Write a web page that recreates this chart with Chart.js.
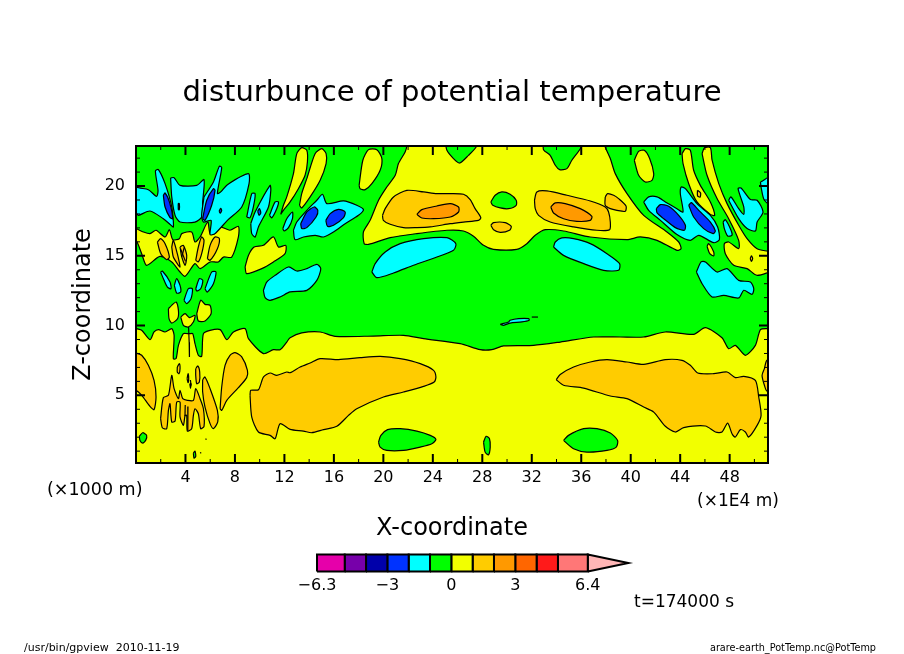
<!DOCTYPE html>
<html>
<head>
<meta charset="utf-8">
<title>disturbunce of potential temperature</title>
<script src="https://cdn.jsdelivr.net/npm/chart.js@4/dist/chart.umd.js"></script>
<style>
  html, body { margin: 0; padding: 0; background: #fff; }
  #wrap { position: relative; width: 904px; height: 654px; overflow: hidden; }
  canvas { position: absolute; left: 0; top: 0; }
</style>
</head>
<body>
<div id="wrap">
  <canvas id="contourChart" width="904" height="654"></canvas>
  <canvas id="colorbarChart" width="904" height="654"></canvas>
</div>
<script>
// contour lines, [x (1E4 m), z (1000 m)]
const yellowUpperCentre = [[21.9,23.2],[21.9,22.87],[21.76,22.44],[21.22,21.61],[20.96,20.77],[20.28,19.93],[19.61,18.98],[18.93,17.54],[18.39,16.71],[18.45,15.87],[18.8,15.82],[20.55,16.3],[22.71,16.59],[25.14,16.83],[26.48,16.78],[27.29,16.4],[28.1,15.75],[28.9,15.46],[30.79,15.46],[31.6,15.87],[32.28,16.47],[33.09,16.87],[34.57,16.78],[36.73,16.35],[39.7,16.16],[40.78,16.35],[42.13,16.11],[43.74,15.39],[44.07,15.51],[43.88,15.99],[42.93,16.71],[41.05,17.9],[39.7,19.46],[38.75,20.89],[38.35,21.97],[37.94,22.8],[37.9,23.2]];
const yellowLower = [[-0.5,10],[0.05,9.78],[0.46,9.66],[1.13,8.99],[1.46,9.54],[1.81,9.71],[2.35,9.54],[2.89,9.78],[3.08,9.3],[3.02,7.63],[3.24,7.63],[3.43,8.58],[3.83,9.42],[4.15,9.42],[4.37,9.42],[4.59,9.42],[4.77,8.7],[5.04,7.87],[5.31,7.79],[5.45,9.42],[5.99,9.66],[6.8,9.71],[7.34,8.99],[7.88,9.54],[8.82,9.78],[9.09,9.06],[10.3,7.99],[11.11,8.27],[11.65,8.27],[12.19,8.82],[12.46,9.13],[13.4,9.47],[14.89,9.54],[16.1,9.23],[19.2,9.25],[21.63,9.3],[23.25,9.06],[26.21,8.7],[27.83,8.27],[28.77,8.27],[29.72,8.54],[32.14,8.58],[34.3,8.82],[37,9.18],[39.15,9.18],[41.05,9.18],[42.8,9.54],[45.09,9.37],[46.04,9.85],[47.38,9.13],[47.92,8.34],[48.46,8.58],[49.27,7.87],[50.08,8.58],[50.49,9.71],[51.08,9.78],[51.6,9.78],[51.6,-1],[-0.5,-1]];
const yellowUpperLeft = [[-0.5,17],[0,16.95],[0.59,16.71],[1.13,16.59],[1.62,16.83],[2.35,16.35],[2.7,16.87],[2.97,16.16],[3.51,16.23],[3.7,16.59],[4.5,16.71],[4.77,15.99],[5.18,16.35],[5.8,17.42],[5.99,16.59],[6.39,16.59],[6.8,17.07],[7.6,16.83],[8.28,17.11],[8.28,16.35],[7.74,14.91],[7.07,14.91],[6.66,14.56],[5.99,14.56],[5.18,14.08],[4.77,14.44],[3.97,13.53],[3.56,13.84],[2.89,14.56],[1.94,14.96],[0.86,14.32],[0.46,15.15],[0,16.11],[-0.5,16.11]];
const yellowStripA = [[11.7,17.97],[11.92,18.62],[12.19,19.22],[12.73,20.89],[13,22.32],[13.4,22.75],[13.81,22.56],[13.86,21.73],[13.67,20.77],[13.13,19.81],[12.46,18.86],[11.92,18.26]];
const yellowStripB = [[13.22,18.62],[13.4,19.46],[13.81,20.53],[14.48,22.32],[15.02,22.68],[15.37,22.32],[15.37,21.61],[14.89,20.41],[14.08,19.22],[13.4,18.43]];
const yellowStripC = [[18.04,20.05],[18.34,21.85],[18.8,22.61],[19.47,22.61],[19.88,21.97],[19.74,21.13],[19.07,20.17],[18.53,19.74],[18.12,19.81]];
const yellowOvalRight = [[40.29,21.85],[40.64,22.49],[41.1,22.56],[41.53,21.97],[41.86,20.89],[41.72,20.41],[41.18,20.29],[40.64,20.77]];
const yellowStripD = [[44.15,22.32],[44.42,22.68],[44.82,22.56],[45.09,21.13],[45.63,20.05],[46.44,18.86],[46.79,17.9],[46.44,17.97],[45.36,18.86],[44.69,20.17],[44.23,21.61]];
const yellowStripE = [[45.77,22.32],[45.96,22.75],[46.44,22.75],[46.58,21.85],[47.12,20.17],[47.79,18.74],[48.73,17.19],[49.41,16.23],[50.22,15.51],[51.6,15.15],[51.6,14.08],[50.22,13.6],[49.41,14.08],[48.33,14.32],[47.65,15.15],[47.57,15.87],[47.92,15.99],[48.73,15.51],[48.73,16.11],[47.92,17.66],[46.98,19.1],[46.17,20.77]];
const yellowSmallRight = [[46.17,15.68],[46.3,15.87],[46.71,15.27],[46.71,14.99],[46.39,15.15]];
const yellowPatchMid = [[8.82,14.2],[9.09,15.03],[9.55,15.63],[10.3,15.75],[11.11,16.35],[11.52,15.63],[12.11,15.75],[12.05,15.15],[11.11,14.56],[10.17,14.08],[8.95,13.72]];
const yellowBlobA = [[2.62,11.21],[2.89,11.45],[3.24,11.69],[3.43,11.09],[3.37,10.5],[2.89,10.18],[2.67,10.5]];
const yellowBlobB = [[3.62,10.61],[3.97,10.85],[4.32,10.57],[4.77,10.73],[4.64,10.26],[4.23,9.9],[3.83,10.02]];
const yellowBlobC = [[4.91,10.85],[5.23,11.81],[5.58,11.52],[5.99,11.45],[6.07,10.85],[5.58,10.33],[5.04,10.33]];

const greenTopLeft = [[25,23.2],[25.14,22.56],[25.67,21.97],[26.16,21.65],[26.88,22.2],[27.5,22.8],[27.5,23.2]];
const greenTopRight = [[32.95,23.2],[32.95,22.6],[33.49,22.2],[33.9,21.49],[34.25,21.18],[34.84,21.25],[35.24,21.85],[35.97,22.75],[36,23.2]];
const greenMidUpper = [[28.69,18.86],[29.04,19.34],[29.58,19.58],[30.25,19.41],[30.74,18.98],[30.74,18.62],[30.12,18.38],[29.45,18.43],[28.85,18.62]];
const greenLowLeft = [[19.61,1.65],[19.8,2.13],[20.34,2.54],[21.36,2.61],[22.71,2.44],[23.79,2.13],[24.25,1.84],[23.92,1.53],[22.98,1.29],[21.63,1.05],[20.28,1.05],[19.74,1.29]];
const greenLowRight = [[34.57,1.77],[34.97,2.13],[36.19,2.61],[37.27,2.61],[38.35,2.3],[38.94,1.77],[38.83,1.29],[38.08,1.05],[36.46,0.93],[35.38,1.17]];
const greenLowCentre = [[28.1,1.65],[28.31,2.06],[28.58,1.89],[28.64,1.29],[28.5,0.74],[28.23,0.93]];
const greenEdgeDot = [[0.27,2.06],[0.54,2.32],[0.86,2.13],[0.78,1.77],[0.54,1.58],[0.32,1.77]];
const greenDotLow = [[4.64,0.86],[4.77,1],[4.83,0.62],[4.69,0.5]];

const cyanCentreLeft = [[19.07,13.84],[19.34,14.44],[20.15,15.27],[21.36,15.87],[23.25,16.23],[25.14,16.3],[25.86,15.87],[25.67,15.39],[24.33,14.91],[22.44,14.32],[20.82,13.77],[19.47,13.43]];
const cyanCentreRight = [[33.76,15.63],[33.9,15.99],[34.43,16.28],[35.38,16.23],[36.73,15.87],[38.08,15.15],[39.1,14.44],[39.02,13.96],[37.81,13.96],[36.19,14.44],[34.57,15.03]];
const cyanUpperLobe = [[12.73,16.83],[13,17.42],[13.81,18.26],[14.62,18.98],[15.08,19.41],[15.43,18.74],[16.78,18.93],[17.85,18.62],[18.39,18.31],[17.99,17.9],[16.91,17.3],[15.97,16.71],[15.16,16.35],[14.48,16.47],[13.54,16.35],[12.86,16.16]];
const cyanLeftLobe = [[-0.5,20.36],[0,20.36],[0.05,19.93],[1,19.74],[1.67,19.26],[1.78,19.69],[1.57,21.08],[1.81,21.18],[2.35,20.17],[2.89,18.5],[3.02,17.07],[2.7,17.3],[2.21,17.66],[1.13,18.21],[0.19,17.9],[0,18.07],[-0.5,18.07]];
const cyanLeftCentre = [[2.8,20.58],[3.08,20.6],[3.56,20.05],[4.91,20.05],[5.5,20.46],[5.39,18.86],[5.31,17.78],[4.77,17.42],[3.56,17.42],[3.16,17.9],[2.89,19.22]];
const cyanRightLobe = [[5.5,19.22],[6.26,20.29],[6.74,21.42],[6.93,21.32],[6.58,19.46],[6.85,19.58],[7.39,20.1],[9.09,20.89],[9.14,20.17],[8.55,18.5],[7.39,17.54],[6.39,16.59],[5.99,16.52],[6.07,17.54],[5.45,17.42],[5.31,17.9]];
const cyanFinA = [[8.95,17.78],[9.36,19.46],[9.63,19.46],[9.49,18.5],[9.22,17.73]];
const cyanFinB = [[9.28,17.31],[9.63,18.14],[10.84,20.05],[10.9,19.69],[10.71,18.5],[9.9,17.07],[9.63,16.35],[9.36,16.59]];
const cyanFinC = [[10.79,17.9],[11.25,18.86],[11.52,18.86],[11.38,18.38],[10.98,17.73]];
const cyanFinD = [[11.87,16.95],[12.19,17.66],[12.65,18.14],[12.65,17.66],[12.33,17.02],[11.97,16.78]];
const cyanPatchLeft = [[10.3,12.52],[10.57,13.12],[11.25,13.6],[12.33,14.2],[13,13.91],[13.81,14.08],[14.62,14.39],[14.94,14.08],[14.62,13.24],[13.81,12.52],[12.46,12.41],[11.65,12.05],[10.84,11.81],[10.44,12]];
const cyanColumnA = [[1.99,13.84],[2.13,13.91],[2.75,13.12],[2.83,12.64],[2.54,12.76],[2.27,13.24]];
const cyanColumnB = [[3.1,12.88],[3.29,13.36],[3.56,12.88],[3.61,12.4],[3.29,12.33]];
const cyanColumnC = [[3.88,11.81],[4.23,12.64],[4.56,12.64],[4.45,11.93],[4.1,11.57]];
const cyanColumnD = [[4.83,12.64],[5.12,13.36],[5.4,13.24],[5.23,12.64],[4.91,12.48]];
const cyanColumnE = [[5.58,12.64],[6.12,13.84],[6.47,13.84],[6.26,13],[5.77,12.4]];
const cyanRightBig = [[41.05,18.86],[41.45,19.22],[42.13,19.22],[42.8,18.86],[43.74,18.38],[44.23,18.14],[44.01,19.46],[44.09,19.93],[44.42,19.81],[45.36,18.74],[46.44,17.9],[47.03,17.07],[47.17,16.16],[46.71,15.94],[45.5,16.47],[44.82,16.11],[43.74,16.52],[42.4,17.54],[41.45,18.26]];
const cyanRightC = [[47.92,18.98],[48.11,19.22],[48.73,18.38],[49.14,17.97],[49.14,18.5],[48.68,19.81],[48.92,19.86],[49.68,19.03],[50.22,18.98],[50.7,18.14],[50.22,17.42],[50.08,16.78],[49.41,16.95],[48.73,17.66]];
const cyanRightD = [[47.47,17.42],[47.65,17.59],[48.11,16.83],[48.19,16.47],[47.84,16.42],[47.57,16.95]];
const cyanRightEdge = [[50.49,20.29],[51.6,20.77],[51.6,18.5],[50.81,18.98],[50.54,19.93]];
const cyanRightLow = [[45.31,13.84],[45.69,14.56],[46.04,14.56],[46.98,13.84],[47.79,14.08],[48.73,13.24],[49.68,13.12],[49.95,12.64],[49.81,12.24],[49.14,12.53],[48.73,11.98],[47.52,12.17],[46.58,12.05],[45.77,13]];
const cyanSliver = [[29.45,10.09],[30.12,10.26],[30.25,10.38],[30.93,10.5],[31.74,10.5],[31.79,10.38],[31.2,10.26],[30.25,10.18],[29.72,10.02]];

const orangeUpperLeft = [[19.93,17.9],[20.15,18.38],[20.82,19.22],[21.9,19.69],[23.25,19.58],[24.33,19.46],[25.4,19.46],[26.48,19.41],[27.02,19.03],[27.42,18.38],[27.88,17.73],[27.69,17.54],[26.48,17.42],[25.4,17.3],[23.79,17.07],[22.71,17.02],[21.63,17.02],[20.55,17.26],[20,17.54]];
const orangeUpperRight = [[32.22,18.98],[32.41,19.58],[33.22,19.65],[34.84,19.34],[36.73,18.93],[37.94,18.5],[38.21,18.14],[38.35,17.42],[38.29,16.87],[37.27,16.83],[35.38,17.07],[33.49,17.42],[32.55,17.9],[32.28,18.38]];
const orangeMidSmall = [[28.69,17.19],[28.91,17.38],[29.85,17.38],[30.34,17.11],[30.2,16.83],[29.45,16.68],[28.91,16.87]];
const orangeUpperFar = [[37.94,19.22],[38.13,19.46],[38.62,19.34],[39.02,19.1],[39.62,18.57],[39.56,18.19],[38.89,18.26],[38.35,18.38],[37.94,18.62]];
const orangeOvalLeft = [[1.73,15.99],[2,16.23],[2.35,15.87],[2.7,14.91],[2.48,14.72],[2,15.15]];
const orangeOvalRight = [[5.77,14.8],[5.99,15.75],[6.39,16.35],[6.74,16.23],[6.58,15.51],[5.99,14.68]];
const orangeFingerA = [[2.89,15.63],[3.02,16.11],[3.34,15.15],[3.56,14.2],[3.43,14.32],[3.02,14.91]];
const orangeFingerB = [[4.83,14.68],[5.04,15.63],[5.31,16.35],[5.5,16.11],[5.31,15.15],[5.04,14.56]];
const orangeFingerC = [[3.56,15.63],[3.83,15.75],[4.1,15.03],[3.97,14.32],[3.7,14.92]];
const orangeEdgeLeft = [[-0.5,8.03],[0,8.03],[0.46,7.87],[1,7.15],[1.46,6.07],[1.62,4.88],[1.46,3.97],[1.13,4.21],[0.46,5],[0,5.36],[-0.5,5.36]];
const orangeComb = [[1.99,3.33],[2.21,4.83],[2.62,5],[2.89,6.43],[3.08,5.48],[3.43,4.76],[3.56,5.36],[3.78,4.76],[4.15,4.64],[4.64,4.64],[4.83,5.48],[5.18,4.76],[5.45,4.04],[5.5,2.78],[5.23,2.61],[5.04,3.68],[4.77,4.04],[4.64,3.56],[4.5,2.61],[4.15,2.44],[4.1,3.56],[3.97,3.56],[3.83,2.85],[3.56,3.45],[3.56,4.52],[3.29,4.52],[3.16,3.16],[2.89,3.09],[2.75,4.4],[2.62,3.92],[2.48,2.61],[2.13,2.68]];
const orangeSpikeA = [[5.39,6.12],[5.58,6.31],[5.99,5.48],[6.58,3.92],[6.61,3.09],[6.26,2.61],[5.99,2.97],[5.58,4.16],[5.39,5.24]];
const orangeSpikeB = [[6.8,4.04],[6.93,5.6],[7.2,7.15],[7.6,7.87],[8.01,8.06],[8.55,7.75],[9.01,6.79],[8.95,6.27],[8.28,5.55],[7.34,4.64],[6.93,3.92]];
const orangeTinyA = [[4.83,6.91],[5,7.1],[5.15,6.67],[5.12,5.95],[4.91,5.83],[4.83,6.43]];
const orangeTinyB = [[3.34,7.03],[3.51,7.27],[3.56,6.91],[3.48,6.55],[3.34,6.67]];
const orangeTinyC = [[4.13,6.19],[4.21,6.55],[4.26,6.19],[4.21,5.9]];
const orangeTinyD = [[4.35,5.83],[4.4,5.5],[4.45,5.83]];
const orangeLowLeft = [[9.22,5],[9.28,5.36],[9.9,5.4],[10.3,6.31],[10.84,6.6],[11.38,6.43],[12.19,6.67],[12.46,6.62],[13.27,7.03],[14.08,7.32],[14.89,7.63],[16.37,7.56],[18.12,7.7],[19.74,7.79],[21.36,7.63],[22.98,7.27],[24.06,6.79],[24.25,6.31],[24.11,5.95],[23.25,5.64],[21.63,5.24],[20.01,4.88],[17.85,4.04],[17.18,3.56],[16.24,2.78],[15.16,2.54],[14.21,2.32],[13.54,2.44],[12.46,2.56],[11.65,2.97],[11.25,1.89],[10.84,2.13],[9.9,2.37],[9.36,3.44]];
const orangeLowRight = [[33.98,6.12],[34.3,6.5],[35.38,7.03],[36.73,7.39],[38.08,7.56],[39.7,7.39],[41.05,7.22],[42.8,7.56],[44.15,7.51],[44.82,7.15],[45.42,6.6],[46.71,6.55],[47.79,6.67],[48.46,6.27],[49.14,6.36],[50.08,6.07],[50.35,4.88],[50.54,3.56],[50.22,2.85],[49.54,2.01],[49.27,2.37],[48.87,2.54],[48.46,2.01],[48.19,2.25],[47.84,3.01],[47.38,2.37],[46.85,2.37],[46.04,2.8],[44.28,2.68],[43.61,2.37],[42.8,2.78],[41.86,3.8],[41.05,4.16],[39.7,4.76],[38.35,4.95],[36.19,5.52],[34.57,5.72]];
const orangeEdgeRight = [[51.6,7.6],[51,7.5],[50.81,6.91],[50.62,6.43],[50.81,5.72],[51,5.31],[51.6,5.31]];
const orangeRingA = [[45.4,19.7],[45.65,19.5],[45.6,19.2],[45.4,19.3]];
const orangeRingB = [[49.66,14.8],[49.76,15],[49.86,14.8],[49.76,14.6]];

const blueUpperA = [[13.32,17.3],[13.81,18.14],[14.4,18.5],[14.7,18.26],[14.56,17.78],[13.81,17.02],[13.4,16.95]];
const blueUpperB = [[15.35,17.54],[15.7,18.02],[16.37,18.33],[16.91,18.14],[16.78,17.74],[15.97,17.19],[15.48,17.11]];
const blueLeft = [[2.21,19.34],[2.35,19.5],[2.7,18.86],[2.97,17.66],[2.75,17.74],[2.35,18.5]];
const blueLeftRight = [[5.39,17.66],[5.72,18.98],[6.26,19.81],[6.39,19.69],[6.12,18.62],[5.58,17.54]];
const blueDotA = [[3.42,18.3],[3.42,18.75],[3.5,18.75],[3.5,18.3]];
const blueDotB = [[6.72,18.2],[6.85,18.4],[6.93,18.25],[6.8,18.05]];
const blueDotC = [[9.84,18.19],[9.98,18.38],[10.09,18.07],[9.95,17.9]];
const blueRightA = [[42.07,18.38],[42.4,18.67],[43.07,18.55],[43.88,17.9],[44.42,17.19],[44.34,16.83],[43.61,17.02],[42.67,17.66],[42.13,18.07]];
const blueRightB = [[44.69,18.62],[44.9,18.81],[45.5,18.26],[46.44,17.42],[46.84,16.78],[46.66,16.59],[45.9,16.95],[45.09,17.78]];

const deepOrangeLeft = [[22.71,17.97],[23.11,18.31],[24.33,18.57],[25.41,18.74],[26.08,18.5],[26.08,18.14],[25.41,17.78],[24.06,17.66],[23.11,17.71]];
const deepOrangeRight = [[33.54,18.5],[33.9,18.79],[34.7,18.74],[35.92,18.38],[36.86,17.83],[36.73,17.54],[35.65,17.47],[34.57,17.66],[33.76,18.07]];

// contours too narrow to show any colour, only their line
const thinContourA = [[4.25,9.9],[4.3,8.8],[4.32,7.75]];
const thinContourB = [[4.2,4.2],[4.18,3.2],[4.2,2.5]];
const thinContourC = [[3.98,4.3],[3.96,3.5]];
const thinContourD = [[3.6,15.5],[4,14.6]];
const thinContourE = [[3.9,15.6],[3.7,14.9]];
const thinContourF = [[32,10.61],[32.5,10.61]];
const thinContourG = [[5.6,1.87],[5.72,1.85]];
const thinContourH = [[5.2,0.92],[5.26,0.84]];
const thinContourI = [[4.4,6.1],[4.45,5.7]];

const plotBackground = [[-1,-1],[52,-1],[52,24],[-1,24]];

// x and z axis ticks
const xTickLabels = [4, 8, 12, 16, 20, 24, 28, 32, 36, 40, 44, 48];
const zTickLabels = [5, 10, 15, 20];

// colour bar
const colorbarEdges = [-6.3, -5, -4, -3, -2, -1, 0, 1, 2, 3, 4, 5, 6.4];
const colorbarColors = ['#e600aa', '#7700aa', '#0000aa', '#0033ff', '#00ffff', '#00ff00', '#f2ff00', '#ffcc00', '#ff9900', '#ff6600', '#ff1a1a', '#ff7777'];
const colorbarTip = [[6.4, 0], [8.3, 0.5], [6.4, 1]];
const colorbarTickValues = [-6.3, -3, 0, 3, 6.4];
const colorbarTickLabels = ['\u22126.3', '\u22123', '0', '3', '6.4'];

const GREEN = '#00ff00', YELLOW = '#f2ff00', AMBER = '#ffcc00', ORANGE = '#ff9900', CYAN = '#00ffff', BLUE = '#0033ff';
const FONT = 'DejaVu Sans';

function region(points, color, width) {
    const closed = points.concat([points[0]]);
    return {
        data: closed.map(p => ({ x: p[0], y: p[1] })),
        showLine: true,
        fill: 'shape',
        backgroundColor: color,
        borderColor: '#000',
        borderWidth: width === undefined ? 1.2 : width,
        borderJoinStyle: 'round',
        tension: 0.25,
        pointRadius: 0
    };
}

function thinLine(points) {
    return {
        data: points.map(p => ({ x: p[0], y: p[1] })),
        showLine: true,
        fill: false,
        borderColor: '#000',
        borderWidth: 1.2,
        pointRadius: 0
    };
}

// listed bottom layer first; Chart.js paints the last dataset first, so reverse at the end
const contourDatasets = [
    region(plotBackground, GREEN, 0),
    ...[yellowUpperCentre, yellowLower, yellowUpperLeft, yellowStripA, yellowStripB, yellowStripC, yellowOvalRight, yellowStripD, yellowStripE, yellowSmallRight, yellowPatchMid, yellowBlobA, yellowBlobB, yellowBlobC].map(p => region(p, YELLOW)),
    ...[greenTopLeft, greenTopRight, greenMidUpper, greenLowLeft, greenLowRight, greenLowCentre, greenEdgeDot, greenDotLow].map(p => region(p, GREEN)),
    ...[cyanCentreLeft, cyanCentreRight, cyanUpperLobe, cyanLeftLobe, cyanLeftCentre, cyanRightLobe, cyanFinA, cyanFinB, cyanFinC, cyanFinD, cyanPatchLeft, cyanColumnA, cyanColumnB, cyanColumnC, cyanColumnD, cyanColumnE, cyanRightBig, cyanRightC, cyanRightD, cyanRightEdge, cyanRightLow, cyanSliver].map(p => region(p, CYAN)),
    ...[orangeUpperLeft, orangeUpperRight, orangeMidSmall, orangeUpperFar, orangeOvalLeft, orangeOvalRight, orangeFingerA, orangeFingerB, orangeFingerC, orangeEdgeLeft, orangeComb, orangeSpikeA, orangeSpikeB, orangeTinyA, orangeTinyB, orangeTinyC, orangeTinyD, orangeLowLeft, orangeLowRight, orangeEdgeRight, orangeRingA, orangeRingB].map(p => region(p, AMBER)),
    ...[blueUpperA, blueUpperB, blueLeft, blueLeftRight, blueDotA, blueDotB, blueDotC, blueRightA, blueRightB].map(p => region(p, BLUE)),
    ...[deepOrangeLeft, deepOrangeRight].map(p => region(p, ORANGE)),
    ...[thinContourA, thinContourB, thinContourC, thinContourD, thinContourE, thinContourF, thinContourG, thinContourH, thinContourI].map(thinLine)
].reverse();

// frame and inward ticks on all four sides
const frameTicks = {
    id: 'frameTicks',
    afterDatasetsDraw(chart) {
        const { ctx, chartArea: a, scales } = chart;
        ctx.save();
        ctx.strokeStyle = '#000';
        scales.x.ticks.forEach(t => {
            const px = scales.x.getPixelForValue(t.value);
            const major = xTickLabels.includes(t.value);
            const len = major ? 9 : 4;
            ctx.lineWidth = major ? 2 : 1;
            ctx.beginPath();
            ctx.moveTo(px, a.top); ctx.lineTo(px, a.top + len);
            ctx.moveTo(px, a.bottom); ctx.lineTo(px, a.bottom - len);
            ctx.stroke();
        });
        scales.y.ticks.forEach(t => {
            const py = scales.y.getPixelForValue(t.value);
            const major = zTickLabels.includes(t.value);
            const len = major ? 9 : 4;
            ctx.lineWidth = major ? 2 : 1;
            ctx.beginPath();
            ctx.moveTo(a.left, py); ctx.lineTo(a.left + len, py);
            ctx.moveTo(a.right, py); ctx.lineTo(a.right - len, py);
            ctx.stroke();
        });
        ctx.lineWidth = 2;
        ctx.strokeRect(a.left, a.top, a.right - a.left, a.bottom - a.top);
        ctx.restore();
    }
};

// the loose labels around the plot
const pageNotes = {
    id: 'pageNotes',
    afterDraw(chart) {
        const { ctx } = chart;
        ctx.save();
        ctx.fillStyle = '#000';
        ctx.textBaseline = 'middle';
        ctx.textAlign = 'left';
        ctx.font = '17.5px "' + FONT + '"';
        ctx.fillText('(\u00d71000 m)', 47, 490);
        ctx.font = '17px "' + FONT + '"';
        ctx.fillText('(\u00d71E4 m)', 697, 502);
        ctx.fillText('t=174000 s', 634, 603);
        ctx.font = '11px "' + FONT + '"';
        ctx.fillText('/usr/bin/gpview  2010-11-19', 24, 648);
        ctx.textAlign = 'right';
        ctx.font = '9.7px "' + FONT + '"';
        ctx.fillText('arare-earth_PotTemp.nc@PotTemp', 876, 648);
        ctx.restore();
    }
};

new Chart(document.getElementById('contourChart'), {
    type: 'scatter',
    data: { datasets: contourDatasets },
    plugins: [frameTicks, pageNotes],
    options: {
        responsive: false,
        animation: false,
        events: [],
        plugins: {
            legend: { display: false },
            tooltip: { enabled: false },
            title: {
                display: true,
                text: 'disturbunce of potential temperature',
                color: '#000',
                font: { family: FONT, size: 29, weight: 'normal', lineHeight: 1.2 },
                padding: { top: 76, bottom: 35.2 }
            }
        },
        scales: {
            x: {
                type: 'linear',
                min: 0,
                max: 51.1,
                grid: { display: false, drawTicks: false },
                border: { display: false },
                afterFit(scale) { scale.height = 191; },
                ticks: {
                    stepSize: 2,
                    includeBounds: false,
                    autoSkip: false,
                    maxRotation: 0,
                    padding: 5,
                    color: '#000',
                    font: { family: FONT, size: 16 },
                    callback: v => xTickLabels.includes(v) ? String(v) : ''
                },
                title: {
                    display: true,
                    text: 'X-coordinate',
                    color: '#000',
                    font: { family: FONT, size: 24, weight: 'normal', lineHeight: 1.2 },
                    padding: { top: 0, bottom: 111 }
                }
            },
            y: {
                type: 'linear',
                min: 0.15,
                max: 22.87,
                grid: { display: false, drawTicks: false },
                border: { display: false },
                afterFit(scale) { scale.width = 136; },
                ticks: {
                    stepSize: 1,
                    includeBounds: false,
                    autoSkip: false,
                    padding: 11,
                    color: '#000',
                    font: { family: FONT, size: 16 },
                    callback: v => zTickLabels.includes(v) ? String(v) : ''
                },
                title: {
                    display: true,
                    text: 'Z-coordinate',
                    color: '#000',
                    font: { family: FONT, size: 24, weight: 'normal', lineHeight: 1.2 },
                    padding: { top: 69, bottom: 0 }
                }
            },
            // empty right margin, so the title stays centred on the whole page
            margin: {
                type: 'linear',
                position: 'right',
                min: 0,
                max: 1,
                grid: { display: false, drawTicks: false },
                border: { display: false },
                afterFit(scale) { scale.width = 136; },
                ticks: { display: false }
            }
        }
    }
});

function colorCell(i) {
    const a = colorbarEdges[i], b = colorbarEdges[i + 1];
    return {
        data: [{ x: a, y: 0 }, { x: b, y: 0 }, { x: b, y: 1 }, { x: a, y: 1 }, { x: a, y: 0 }],
        showLine: true,
        fill: 'shape',
        backgroundColor: colorbarColors[i],
        borderColor: '#000',
        borderWidth: 2,
        pointRadius: 0,
        clip: false
    };
}

const colorbarDatasets = colorbarColors.map((c, i) => colorCell(i));
colorbarDatasets.push({
    data: colorbarTip.concat([colorbarTip[0]]).map(p => ({ x: p[0], y: p[1] })),
    showLine: true,
    fill: 'shape',
    backgroundColor: '#ffb6b6',
    borderColor: '#000',
    borderWidth: 2,
    pointRadius: 0,
    clip: false
});

new Chart(document.getElementById('colorbarChart'), {
    type: 'scatter',
    data: { datasets: colorbarDatasets },
    options: {
        responsive: false,
        animation: false,
        events: [],
        layout: { padding: { left: 317, right: 275.7, top: 554.5 } },
        plugins: { legend: { display: false }, tooltip: { enabled: false } },
        scales: {
            x: {
                type: 'linear',
                min: -6.3,
                max: 8.3,
                grid: { display: false, drawTicks: false },
                border: { display: false },
                afterBuildTicks(scale) { scale.ticks = colorbarTickValues.map(v => ({ value: v })); },
                afterFit(scale) { scale.height = 82.5; },
                ticks: {
                    autoSkip: false,
                    maxRotation: 0,
                    padding: 5,
                    color: '#000',
                    font: { family: FONT, size: 16 },
                    callback: v => colorbarTickLabels[colorbarTickValues.indexOf(v)]
                }
            },
            y: { type: 'linear', min: 0, max: 1, display: false }
        }
    }
});
</script>
</body>
</html>
